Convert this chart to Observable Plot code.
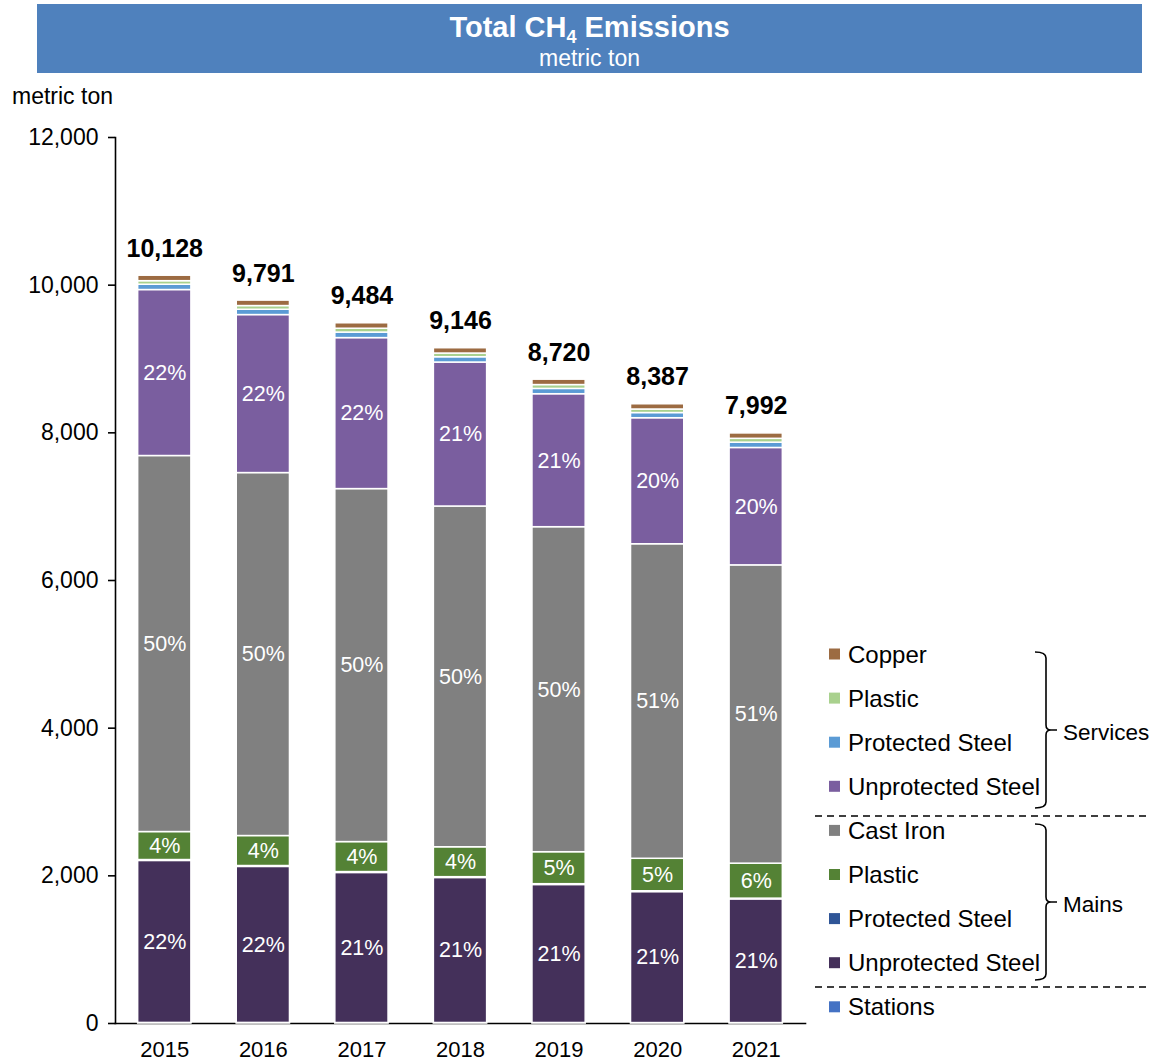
<!DOCTYPE html>
<html>
<head>
<meta charset="utf-8">
<script src="https://cdn.jsdelivr.net/npm/d3@7"></script>
<script src="https://cdn.jsdelivr.net/npm/@observablehq/plot@0.6"></script>
<style>
  body { margin: 0; background: #fff; font-family: "Liberation Sans", Arial, sans-serif; }
  #wrap { position: relative; width: 1150px; height: 1062px; overflow: hidden; }
  #header { position: relative; width: 1150px; height: 80px; }
  #titlebox { position: absolute; left: 37px; top: 4px; width: 1105px; height: 69px; background: #4F81BD; color: #fff; text-align: center; }
  #title { position: absolute; left: 0; right: 0; top: 6px; line-height: 34px; font-size: 29px; font-weight: bold; }
  #title sub { font-size: 18px; vertical-align: -6px; line-height: 0; }
  #subtitle { position: absolute; left: 0; right: 0; top: 41px; line-height: 26px; font-size: 23px; }
  #chart svg { display: block; }
</style>
</head>
<body>
<div id="wrap">
  <div id="header">
    <div id="titlebox">
      <div id="title">Total CH<sub>4</sub> Emissions</div>
      <div id="subtitle">metric ton</div>
    </div>
  </div>
  <div id="chart"></div>
</div>
<script>
// ---- data (metric ton) ----
const years = ["2015", "2016", "2017", "2018", "2019", "2020", "2021"];
const totals = [10128, 9791, 9484, 9146, 8720, 8387, 7992];
const yTicks = [0, 2000, 4000, 6000, 8000, 10000, 12000];

const stations                = [8, 8, 7, 7, 7, 6, 6];
const mainsUnprotectedSteel   = [2194, 2113, 2032, 1964, 1869, 1774, 1675];
const mainsProtectedSteel     = [12, 12, 12, 11, 11, 11, 10];
const mainsPlastic            = [379, 406, 406, 405, 433, 440, 474];
const castIron                = [5093, 4916, 4781, 4615, 4402, 4260, 4040];
const servicesUnprotectedSteel= [2248, 2140, 2045, 1950, 1801, 1707, 1590];
const servicesProtectedSteel  = [72, 72, 75, 72, 72, 70, 72];
const servicesPlastic         = [48, 50, 52, 50, 52, 48, 52];
const copper                  = [74, 74, 74, 72, 73, 71, 73];

// stacking order, bottom to top
const seriesKeys = ["Stations", "Mains Unprotected Steel", "Mains Protected Steel", "Mains Plastic", "Cast Iron",
                    "Services Unprotected Steel", "Services Protected Steel", "Services Plastic", "Copper"];
const seriesNames = ["Stations", "Unprotected Steel", "Protected Steel", "Plastic", "Cast Iron",
                     "Unprotected Steel", "Protected Steel", "Plastic", "Copper"];
const seriesValues = [stations, mainsUnprotectedSteel, mainsProtectedSteel, mainsPlastic, castIron,
                      servicesUnprotectedSteel, servicesProtectedSteel, servicesPlastic, copper];
const seriesColors = ["#4472C4", "#44305A", "#2F5597", "#548235", "#808080",
                      "#7A5E9F", "#5B9BD5", "#A9D18E", "#9C6B42"];
const labelledSeries = ["Mains Unprotected Steel", "Mains Plastic", "Cast Iron", "Services Unprotected Steel"];

// ---- build table ----
const table = [];
years.forEach((yr, i) => {
  let acc = 0;
  seriesKeys.forEach((k, s) => {
    const v = seriesValues[s][i];
    table.push({year: yr, key: k, value: v, y1: acc, y2: acc + v, total: totals[i]});
    acc += v;
  });
});
const labelRows = table.filter(d => labelledSeries.includes(d.key));
const totalRows = years.map((yr, i) => ({year: yr, total: totals[i]}));
const fmt = d3.format(",");

const TOP = 80; // svg offset on page

const chart = Plot.plot({
  width: 1150,
  height: 982,
  marginTop: 57,
  marginBottom: 39,
  marginLeft: 115,
  marginRight: 345,
  style: {fontFamily: "Liberation Sans, Arial, sans-serif", fontSize: "22px", color: "#000", background: "transparent"},
  x: {domain: years, paddingInner: 0.46, paddingOuter: 0.23, round: false, tickSize: 0, tickPadding: 18, line: true, label: null},
  y: {domain: [0, 12000], ticks: yTicks, tickFormat: d => fmt(d), tickSize: 7, tickPadding: 10, line: true, label: null},
  color: {domain: seriesKeys, range: seriesColors},
  marks: [
    Plot.barY(table, {x: "year", y1: "y1", y2: "y2", fill: "key", stroke: "white", strokeWidth: 1.5}),
    Plot.text(labelRows, {x: "year", y: d => (d.y1 + d.y2) / 2, text: d => Math.round(d.value / d.total * 100) + "%",
      fill: "white", fontSize: 21.5}),
    Plot.text(totalRows, {x: "year", y: "total", text: d => fmt(d.total), dy: -27,
      fontSize: 25, fontWeight: "bold", fill: "black"})
  ]
});

document.getElementById("chart").appendChild(chart);

const svg = d3.select(chart);
svg.selectAll('[aria-label="y-axis tick"] path, [aria-label="frame"]').attr("stroke-width", 1.6);
svg.selectAll('[aria-label="frame"] line, [aria-label="frame"] rect').attr("stroke-width", 1.6);
svg.selectAll('[aria-label="y-axis tick label"]').attr("font-size", 23);

// y axis unit label
svg.append("text").attr("x", 12).attr("y", 96 - TOP).attr("dominant-baseline", "central")
  .attr("text-anchor", "start").attr("font-size", 23).attr("fill", "#000").text("metric ton");

// ---- legend (top to bottom is reverse of stack) ----
const lg = svg.append("g").attr("font-size", 24).attr("fill", "#000").attr("text-anchor", "start");
const legendOrder = d3.range(seriesKeys.length).reverse();
legendOrder.forEach((s, r) => {
  const cy = 654 + r * 44.1 - TOP;
  lg.append("rect").attr("x", 829).attr("y", cy - 5.5).attr("width", 11).attr("height", 11).attr("fill", seriesColors[s]);
  lg.append("text").attr("x", 848).attr("y", cy).attr("dominant-baseline", "central").attr("text-anchor", "start").text(seriesNames[s]);
});

function brace(y0, y1, label) {
  const xv = 1046, xe = 1035, ym = (y0 + y1) / 2;
  const p = `M${xe},${y0} Q${xv},${y0} ${xv},${y0 + 6} L${xv},${ym - 5} Q${xv},${ym} ${xv + 5},${ym} L${xv + 11},${ym}` +
            ` M${xv + 5},${ym} Q${xv},${ym} ${xv},${ym + 5} L${xv},${y1 - 6} Q${xv},${y1} ${xe},${y1}`;
  lg.append("path").attr("d", p).attr("fill", "none").attr("stroke", "#000").attr("stroke-width", 1.6);
  lg.append("text").attr("x", 1063).attr("y", ym + 2).attr("dominant-baseline", "central")
    .attr("text-anchor", "start").attr("font-size", 22.5).text(label);
}
brace(652 - TOP, 808 - TOP, "Services");
brace(824 - TOP, 980 - TOP, "Mains");

[816, 987].forEach(y => {
  lg.append("line").attr("x1", 815).attr("x2", 1150).attr("y1", y - TOP).attr("y2", y - TOP)
    .attr("stroke", "#000").attr("stroke-width", 1.5).attr("stroke-dasharray", "7,5");
});
</script>
</body>
</html>
